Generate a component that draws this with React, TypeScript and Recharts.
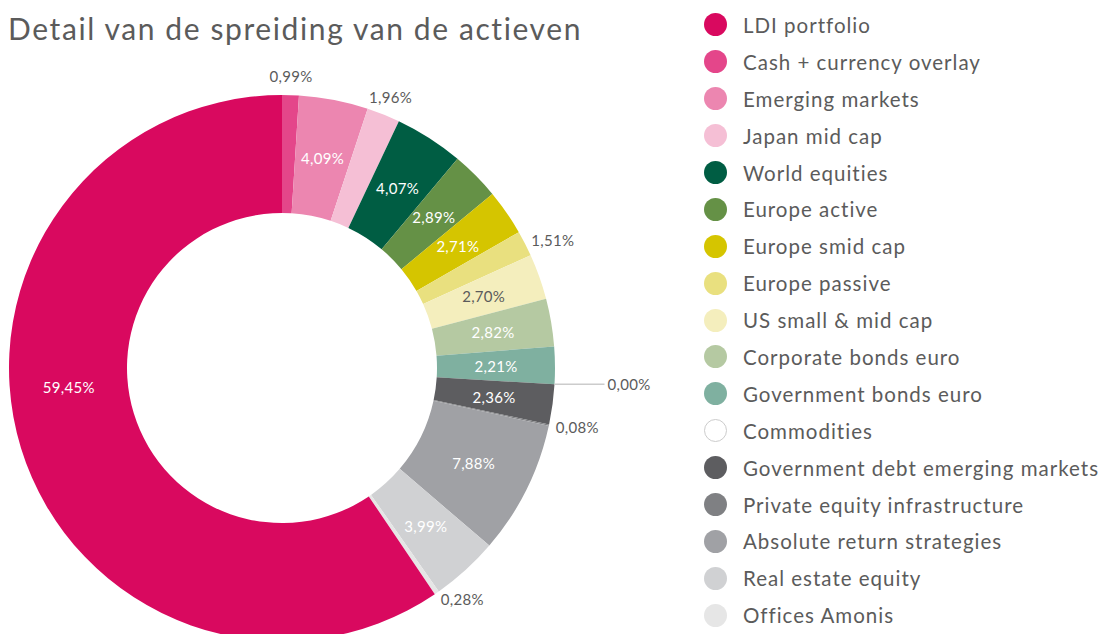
import { PieChart, Pie, Cell } from "recharts";

// categorieën in volgorde van de legende
const categories = [
  "LDI portfolio",
  "Cash + currency overlay",
  "Emerging markets",
  "Japan mid cap",
  "World equities",
  "Europe active",
  "Europe smid cap",
  "Europe passive",
  "US small & mid cap",
  "Corporate bonds euro",
  "Government bonds euro",
  "Commodities",
  "Government debt emerging markets",
  "Private equity infrastructure",
  "Absolute return strategies",
  "Real estate equity",
  "Offices Amonis",
];

const shares = [
  59.45, 0.99, 4.09, 1.96, 4.07, 2.89, 2.71, 1.51, 2.7, 2.82, 2.21, 0.0, 2.36, 0.08, 7.88, 3.99, 0.28,
];

const colors = [
  "#d9095f",
  "#e4468a",
  "#ec86b0",
  "#f5bfd5",
  "#005d43",
  "#659146",
  "#d5c500",
  "#e9e07f",
  "#f4eebd",
  "#b5c9a2",
  "#7fb0a0",
  "#ffffff",
  "#5d5d60",
  "#7f8083",
  "#a0a1a5",
  "#d0d1d3",
  "#e6e6e6",
];

const darkLabelCategories = ["US small & mid cap"];

const TEXT = "#5b5b5b";
const FONT = "Lato, 'Open Sans', sans-serif";
const RAD = Math.PI / 180;

// de taart begint bovenaan met Cash en eindigt met LDI
const pieOrder = [...categories.slice(1), categories[0]];
const pieData = pieOrder.map((name) => {
  const i = categories.indexOf(name);
  return { name, value: shares[i], color: colors[i] };
});

const fmt = (v: number) => v.toFixed(2).replace(".", ",") + "%";

function renderLabel(props: any) {
  const { cx, cy, midAngle, innerRadius, outerRadius, value, name } = props;
  const text = fmt(value);

  if (value >= 2) {
    // grote segmenten: label in het midden van de ring
    const angle = name === "LDI portfolio" ? midAngle - 12 : midAngle;
    const r = (innerRadius + outerRadius) / 2;
    const x = cx + r * Math.cos(angle * RAD);
    const y = cy - r * Math.sin(angle * RAD);
    const fill = darkLabelCategories.includes(name) ? TEXT : "#ffffff";
    return (
      <text x={x} y={y} fill={fill} fontSize={15} fontFamily={FONT} textAnchor="middle" dominantBaseline="central" letterSpacing={0.3}>
        {text}
      </text>
    );
  }

  const dx = Math.cos(midAngle * RAD);
  const dy = -Math.sin(midAngle * RAD);

  if (value === 0) {
    const x1 = cx + outerRadius * dx;
    const y1 = cy + outerRadius * dy;
    const x2 = x1 + 50;
    return (
      <g>
        <line x1={x1} y1={y1} x2={x2} y2={y1} stroke="#cccccc" strokeWidth={1.5} />
        <text x={x2 + 3} y={y1} fill={TEXT} fontSize={15} fontFamily={FONT} textAnchor="start" dominantBaseline="central" letterSpacing={0.3}>
          {text}
        </text>
      </g>
    );
  }

  const side = Math.abs(dx) > 0.5;
  const r = side ? outerRadius + 7 : outerRadius + 19;
  const x = cx + r * dx;
  const y = cy + r * dy;
  return (
    <text
      x={x}
      y={y}
      fill={TEXT}
      fontSize={15}
      fontFamily={FONT}
      letterSpacing={0.3}
      textAnchor={side ? (dx > 0 ? "start" : "end") : "middle"}
      dominantBaseline="central"
    >
      {text}
    </text>
  );
}

export default function App() {
  return (
    <div style={{ position: "absolute", left: 0, top: 0, width: 1100, height: 634, background: "#fff", overflow: "hidden" }}>
      <div
        style={{
          position: "absolute",
          left: 8,
          top: 10,
          fontFamily: FONT,
          fontSize: 30,
          lineHeight: 1.2,
          letterSpacing: 1.6,
          color: TEXT,
          whiteSpace: "nowrap",
        }}
      >
        Detail van de spreiding van de actieven
      </div>

      <div style={{ position: "absolute", left: 0, top: 0 }}>
        <PieChart width={700} height={634} margin={{ top: 0, right: 0, bottom: 0, left: 0 }}>
          <Pie
            data={pieData}
            dataKey="value"
            nameKey="name"
            cx={282}
            cy={368}
            innerRadius={155}
            outerRadius={273}
            startAngle={90}
            endAngle={-270}
            stroke="none"
            label={renderLabel}
            labelLine={false}
            isAnimationActive={false}
          >
            {pieData.map((d) => (
              <Cell key={d.name} fill={d.color} />
            ))}
          </Pie>
        </PieChart>
      </div>

      <div style={{ position: "absolute", left: 704, top: 6.5, fontFamily: FONT, fontSize: 20.5, letterSpacing: 1, color: TEXT }}>
        {categories.map((name, i) => (
          <div key={name} style={{ height: 36.9, display: "flex", alignItems: "center", whiteSpace: "nowrap" }}>
            <span
              style={{
                width: 23,
                height: 23,
                borderRadius: "50%",
                background: colors[i],
                boxSizing: "border-box",
                border: colors[i] === "#ffffff" ? "1px solid #cccccc" : "none",
                marginRight: 16,
                flexShrink: 0,
              }}
            />
            {name}
          </div>
        ))}
      </div>
    </div>
  );
}
